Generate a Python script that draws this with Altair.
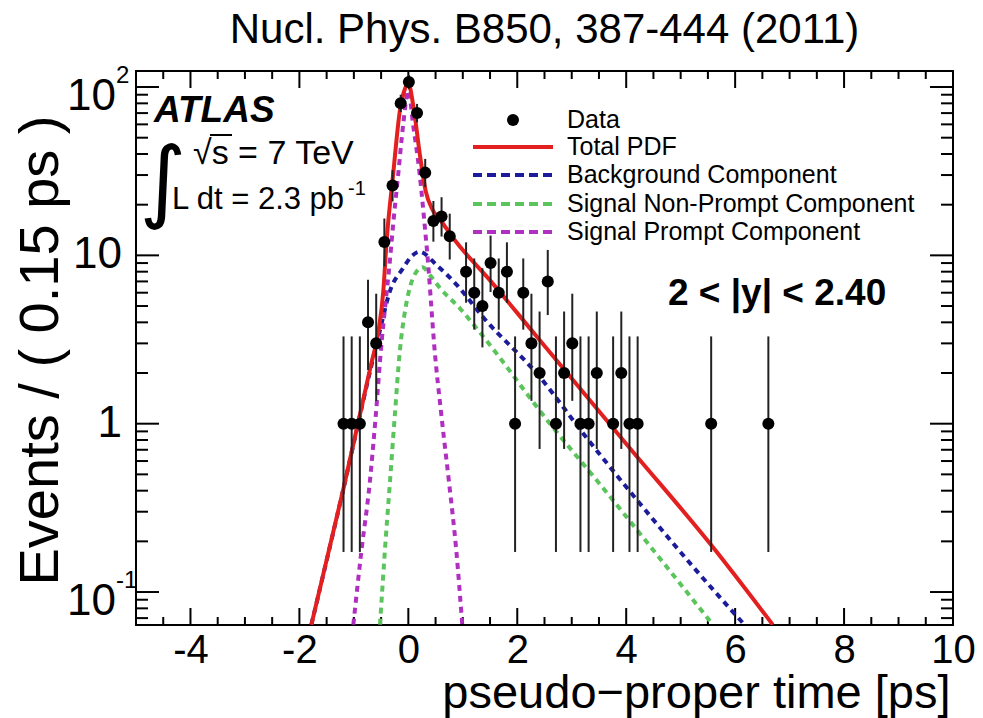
import altair as alt
import pandas as pd

# ---------------- data ----------------
t_data = [-1.19, -1.04, -0.89, -0.74, -0.59, -0.44, -0.29, -0.14, 0.01, 0.16, 0.31, 0.46, 0.61, 0.76,
          1.06, 1.21, 1.36, 1.51, 1.66, 1.81, 1.96, 2.11, 2.26, 2.41, 2.56, 2.71, 2.86, 3.01, 3.16,
          3.31, 3.46, 3.76, 3.91, 4.06, 4.21, 5.56, 6.61]
n_data = [1, 1, 1, 4, 3, 12, 26, 80, 107, 70, 31, 16, 17, 13,
          8, 6, 5, 9, 6, 8, 1, 6, 3, 2, 7, 1, 2, 3, 1,
          1, 2, 1, 2, 1, 1, 1, 1]
n_lo = [0.173, 0.173, 0.173, 2.086, 1.367, 8.589, 20.92, 71.09, 96.9, 61.68, 25.46, 12.06, 12.94, 9.446,
        5.232, 3.620, 2.840, 6.057, 3.620, 5.232, 0.173, 3.620, 1.367, 0.708, 4.419, 0.173, 0.708, 1.367, 0.173,
        0.173, 0.708, 0.173, 0.708, 0.173, 0.173, 0.173, 0.173]
n_hi = [3.300, 3.300, 3.300, 7.163, 5.918, 16.55, 32.06, 89.97, 118.0, 79.37, 37.41, 21.04, 22.15, 17.68,
        11.95, 9.584, 8.382, 13.11, 9.584, 11.95, 3.300, 9.584, 5.918, 4.638, 10.77, 3.300, 4.638, 5.918, 3.300,
        3.300, 4.638, 3.300, 4.638, 3.300, 3.300, 3.300, 3.300]

total_t = [-1.78, -1.20, -0.68, -0.55, -0.46, -0.40, -0.28, -0.156, -0.06, 0.0, 0.10, 0.21, 0.32, 0.45,
           0.63, 0.88, 1.50, 2.29, 4.06, 5.59, 6.69]
total_v = [0.064, 0.40, 2.28, 3.5, 6.1, 12.0, 30.0, 72.0, 98.0, 105.0, 74.0, 40.0, 24.0, 18.5,
           15.5, 12.0, 7.1, 3.5, 0.72, 0.185, 0.064]

bkg_t = [-1.78, -1.20, -0.68, -0.52, -0.34, -0.095, 0.05, 0.21, 0.52, 0.885, 1.37, 2.41, 3.21, 4.25, 5.23, 6.17]
bkg_v = [0.064, 0.40, 2.2, 3.6, 6.1, 8.4, 9.8, 10.5, 8.75, 6.7, 4.3, 1.9, 0.875, 0.336, 0.141, 0.064]

nonprompt_t = [-0.52, -0.43, -0.34, -0.25, -0.156, -0.05, 0.05, 0.15, 0.26, 0.40, 0.58, 0.945, 1.31, 2.60,
               3.51, 4.25, 5.04, 5.59]
nonprompt_v = [0.064, 0.177, 0.44, 1.1, 2.7, 4.9, 6.8, 8.0, 8.5, 7.6, 6.4, 4.85, 3.5, 1.0,
               0.44, 0.223, 0.107, 0.064]

prompt_t = [-1.01, -0.86, -0.71, -0.60, -0.49, -0.43, -0.34, -0.28, -0.187, -0.095, 0.0, 0.088, 0.21,
            0.30, 0.36, 0.425, 0.47, 0.61, 0.75, 0.88, 0.99]
prompt_v = [0.064, 0.177, 0.44, 1.1, 3.07, 4.8, 9.2, 15.1, 30.0, 59.5, 95.0, 59.5, 30.0,
            15.1, 9.2, 4.8, 3.07, 1.1, 0.44, 0.177, 0.064]

x_major = [-4, -2, 0, 2, 4, 6, 8, 10]
x_minor = [-4.5, -3.5, -3, -2.5, -1.5, -1, -0.5, 0.5, 1, 1.5, 2.5, 3, 3.5, 4.5, 5, 5.5,
           6.5, 7, 7.5, 8.5, 9, 9.5]
y_major = [0.1, 1, 10, 100]
y_minor = [0.07, 0.08, 0.09, 0.2, 0.3, 0.4, 0.5, 0.6, 0.7, 0.8, 0.9,
           2, 3, 4, 5, 6, 7, 8, 9, 20, 30, 40, 50, 60, 70, 80, 90]

# y tick labels: plain ones, and power-of-ten ones with base + exponent
y_plain_vals = [1, 10]
y_plain_text = ["1", "10"]
y_pow_vals = [0.1, 100]
y_pow_base = ["10", "10"]
y_pow_exp = ["-1", "2"]

legend_labels = ["Data", "Total PDF", "Background Component",
                 "Signal Non-Prompt Component", "Signal Prompt Component"]

# ---------------- styling ----------------
W, H = 817, 554
FONT = "Liberation Sans"
RED, BLUE, GREEN, PURPLE = "#e3201f", "#1c1c9a", "#5cc45c", "#b02fc0"
DOT = [6, 5]

xscale = alt.Scale(domain=[-5, 10], nice=False, zero=False)
yscale = alt.Scale(type="log", domain=[0.0637, 124.5], nice=False)

xaxis = alt.Axis(values=x_major, ticks=False, domain=False, grid=False,
                 labelExpr="'' + datum.value", labelFont=FONT, labelFontSize=40,
                 labelColor="black", labelPadding=5, labelFlush=False,
                 title="pseudo\u2212proper time [ps]", titleFont=FONT, titleFontSize=47,
                 titleFontWeight="normal", titleColor="black", titleAnchor="end",
                 titleAlign="right", titleBaseline="alphabetic", titleX=W - 3, titleY=82)
yaxis = alt.Axis(values=y_major, ticks=False, domain=False, grid=False, labels=False,
                 title="Events / ( 0.15 ps )", titleFont=FONT, titleFontSize=56,
                 titleFontWeight="normal", titleColor="black", titleAnchor="middle",
                 titleAngle=-90, titleBaseline="alphabetic", titleAlign="center",
                 titleX=-79, titleY=H / 2 + 2)


def X(f):
    return alt.X(f, type="quantitative", scale=xscale, axis=xaxis)


def Y(f):
    return alt.Y(f, type="quantitative", scale=yscale, axis=yaxis)


df = pd.DataFrame({"t": t_data, "n": n_data, "lo": n_lo, "hi": n_hi})

errbars = alt.Chart(df).mark_rule(color="#222222", strokeWidth=2).encode(
    x=X("t"), y=Y("lo"), y2="hi")
points = alt.Chart(df).mark_circle(color="black", opacity=1, size=145).encode(
    x=X("t"), y=Y("n"))


def curve(ts, vs, color, dash=None):
    d = pd.DataFrame({"t": ts, "v": vs})
    kw = dict(interpolate="monotone", clip=True, strokeWidth=4, color=color)
    if dash:
        kw["strokeDash"] = dash
    return alt.Chart(d).mark_line(**kw).encode(x=X("t"), y=Y("v"), order="t:Q")


l_total = curve(total_t, total_v, RED)
l_bkg = curve(bkg_t, bkg_v, BLUE, DOT)
l_np = curve(nonprompt_t, nonprompt_v, GREEN, DOT)
l_p = curve(prompt_t, prompt_v, PURPLE, DOT)

# ---------------- y tick labels ----------------
ylab_plain = alt.Chart(pd.DataFrame({"v": y_plain_vals, "s": y_plain_text})).mark_text(
    font=FONT, fontSize=44, align="right", baseline="middle", color="black").encode(
    y=Y("v"), x=alt.value(-14), text="s:N")
ylab_base = alt.Chart(pd.DataFrame({"v": y_pow_vals, "s": y_pow_base})).mark_text(
    font=FONT, fontSize=44, align="right", baseline="middle", color="black", dy=10).encode(
    y=Y("v"), x=alt.value(-20), text="s:N")
ylab_exp = alt.Chart(pd.DataFrame({"v": y_pow_vals, "s": y_pow_exp})).mark_text(
    font=FONT, fontSize=24, align="left", baseline="middle", color="black", dy=-11).encode(
    y=Y("v"), x=alt.value(-20), text="s:N")

# ---------------- frame ticks (inside, mirrored) ----------------
def yticks(vals, length):
    d = pd.DataFrame({"v": vals})
    left = alt.Chart(d).mark_rule(color="black", strokeWidth=2).encode(
        y=Y("v"), x=alt.value(0), x2=alt.value(length))
    right = alt.Chart(d).mark_rule(color="black", strokeWidth=2).encode(
        y=Y("v"), x=alt.value(W - length), x2=alt.value(W))
    return [left, right]


def xticks(vals, length):
    d = pd.DataFrame({"v": vals})
    bot = alt.Chart(d).mark_rule(color="black", strokeWidth=2).encode(
        x=X("v"), y=alt.value(H), y2=alt.value(H - length))
    top = alt.Chart(d).mark_rule(color="black", strokeWidth=2).encode(
        x=X("v"), y=alt.value(0), y2=alt.value(length))
    return [bot, top]


tick_layers = yticks(y_major, 23) + yticks(y_minor, 12) + xticks(x_major, 17) + xticks(x_minor, 8)

# ---------------- annotations ----------------
one = pd.DataFrame({"a": [0]})


def label(text, x, y, size, weight="normal", style="normal", align="left",
          baseline="alphabetic", font=FONT, dy=0):
    return alt.Chart(one).mark_text(text=text, font=font, fontSize=size, fontWeight=weight,
                                    fontStyle=style, align=align, baseline=baseline, dy=dy,
                                    color="black").encode(x=alt.value(x), y=alt.value(y))


ann = [
    label("ATLAS", 18, 51, 37, weight="bold", style="italic"),
    label("\u221as = 7 TeV", 57, 93, 34),
    label("L dt = 2.3 pb", 36, 138, 31),
    label("-1", 212, 124, 20),
    label("\u222b", 27, 113, 90, align="center", baseline="middle", font="DejaVu Sans"),
    label("2 < |y| < 2.40", 532, 234, 37, weight="bold"),
]
overbar = alt.Chart(one).mark_rule(color="black", strokeWidth=2).encode(
    x=alt.value(74), x2=alt.value(96), y=alt.value(64))

# ---------------- legend ----------------
leg_x0, leg_x1, leg_txt = 337, 417, 431
leg_rows = [49, 76, 104, 133, 161]
leg_styles = [None, (RED, None), (BLUE, [9, 5]), (GREEN, [9, 5]), (PURPLE, [9, 5])]
legend_layers = []
for lab, yy, st in zip(legend_labels, leg_rows, leg_styles):
    if st is None:
        legend_layers.append(alt.Chart(one).mark_circle(color="black", opacity=1, size=145).encode(
            x=alt.value((leg_x0 + leg_x1) / 2), y=alt.value(yy)))
    else:
        kw = dict(color=st[0], strokeWidth=4)
        if st[1]:
            kw["strokeDash"] = st[1]
        legend_layers.append(alt.Chart(one).mark_rule(**kw).encode(
            x=alt.value(leg_x0), x2=alt.value(leg_x1), y=alt.value(yy)))
    legend_layers.append(label(lab, leg_txt, yy, 25, baseline="middle"))

chart = alt.layer(
    *tick_layers, l_bkg, l_np, l_p, l_total, errbars, points,
    ylab_plain, ylab_base, ylab_exp, *ann, overbar, *legend_layers
).properties(
    width=W, height=H,
    padding={"left": 136, "top": 71, "right": 30, "bottom": 93},
    autosize=alt.AutoSizeParams(type="none"),
    title=alt.TitleParams("Nucl. Phys. B850, 387-444 (2011)", font=FONT, fontSize=42,
                          fontWeight="normal", color="black", anchor="middle", frame="group",
                          baseline="alphabetic", offset=21, dy=42),
    background="white",
).configure_view(stroke="black", strokeWidth=2)

chart.save("out.html", embed_options={"renderer": "svg", "actions": False})
